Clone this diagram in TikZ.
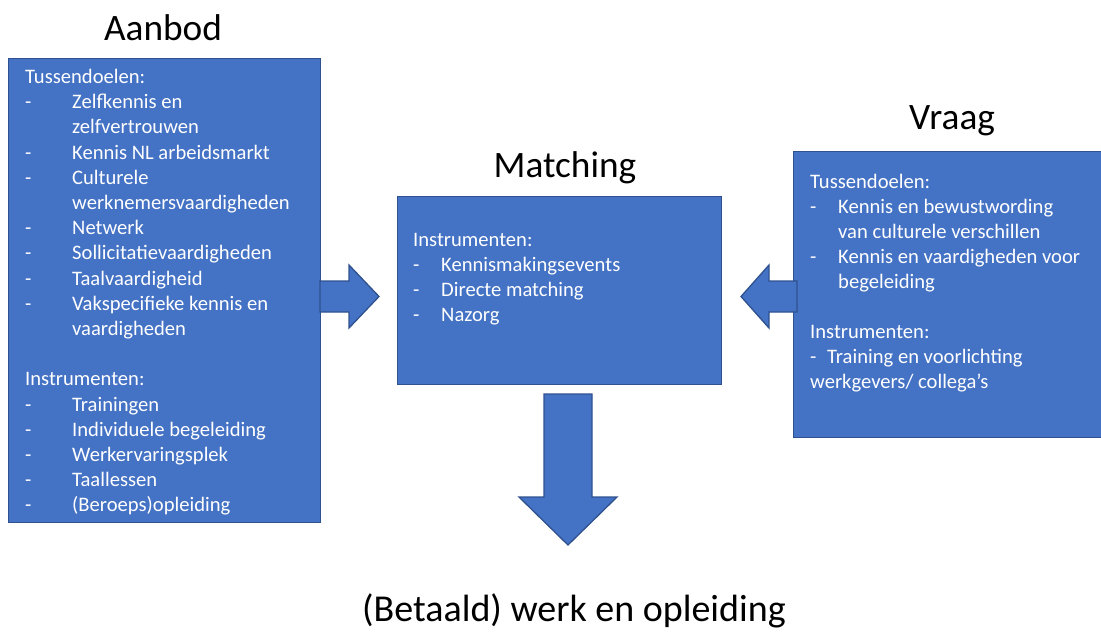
\documentclass[tikz,border=0pt]{standalone}
\usepackage{fontspec}
\setmainfont{Carlito}
\definecolor{boxblue}{HTML}{4472C4}
\definecolor{boxedge}{HTML}{2F528F}
\begin{document}
\begin{tikzpicture}[x=1pt,y=-1pt,
  box/.style={draw=boxedge, fill=boxblue, line width=1.3pt, inner sep=0pt, anchor=north west},
  body/.style={text=white, font=\fontsize{20.6}{25}\selectfont, inner sep=0pt, anchor=base west},
  title/.style={text=black, font=\fontsize{37.3}{44}\selectfont, inner sep=0pt, anchor=base},
  blockarrow/.style={draw=boxedge, fill=boxblue, line width=1.3pt, line join=miter}]
\useasboundingbox (0,0) rectangle (1101,632);

% --- boxes ---
\node[box, minimum width=312pt, minimum height=464pt] (aanbod) at (8,58) {};
\node[box, minimum width=324pt, minimum height=188pt] (matching) at (397,196) {};
\node[box, minimum width=309pt, minimum height=286pt] (vraag) at (793,151) {};

% --- titles ---
\node[title] (tA) at (163,40) {Aanbod};
\node[title] (tM) at (565,177) {Matching};
\node[title] (tV) at (952,129) {Vraag};
\node[title, font=\fontsize{38}{44}\selectfont] (tW) at (574,621.5) {(Betaald) werk en opleiding};

% --- block arrows ---
\draw[blockarrow] (320,281) -- (349,281) -- (349,265) -- (379,296.5)
  -- (349,328) -- (349,312) -- (320,312) -- cycle;
\draw[blockarrow] (797,281) -- (769,281) -- (769,265) -- (741,296.5)
  -- (769,328) -- (769,312) -- (797,312) -- cycle;
\draw[blockarrow] (544,394) -- (592,394) -- (592,497) -- (617,497)
  -- (568,545) -- (519,497) -- (544,497) -- cycle;

% --- Aanbod text ---
\foreach \n/\txt in {0/Tussendoelen:, 12/Instrumenten:}
  \node[body] (ah\n) at (25,{83.5+25.2*\n}) {\txt};
\foreach \n in {1,3,4,6,7,8,9,13,14,15,16,17}
  \node[body] (ad\n) at (25,{83.5+25.2*\n}) {-};
\foreach \n/\txt in {1/Zelfkennis en, 2/zelfvertrouwen, 3/Kennis NL arbeidsmarkt,
    4/Culturele, 5/werknemersvaardigheden, 6/Netwerk, 7/Sollicitatievaardigheden,
    8/Taalvaardigheid, 9/Vakspecifieke kennis en, 10/vaardigheden,
    13/Trainingen, 14/Individuele begeleiding, 15/Werkervaringsplek,
    16/Taallessen, 17/(Beroeps)opleiding}
  \node[body] (at\n) at (72,{83.5+25.2*\n}) {\txt};

% --- Matching text ---
\node[body] (mh) at (413,246.5) {Instrumenten:};
\foreach \n/\txt in {1/Kennismakingsevents, 2/Directe matching, 3/Nazorg}{
  \node[body] (md\n) at (413,{246.5+25*\n}) {-};
  \node[body] (mt\n) at (441,{246.5+25*\n}) {\txt};
}

% --- Vraag text ---
\foreach \n/\txt in {0/Tussendoelen:, 6/Instrumenten:}
  \node[body] (vh\n) at (810,{188.3+25*\n}) {\txt};
\foreach \n in {1,3}
  \node[body] (vd\n) at (810,{188.3+25*\n}) {-};
\foreach \n/\txt in {1/Kennis en bewustwording, 2/van culturele verschillen,
    3/Kennis en vaardigheden voor, 4/begeleiding}
  \node[body] (vt\n) at (838,{188.3+25*\n}) {\txt};
\node[body] (vd7) at (810,{188.3+25*7}) {-};
\node[body] (vt7) at (827,{188.3+25*7}) {Training en voorlichting};
\node[body] (vt8) at (810,{188.3+25*8}) {werkgevers/ collega’s};
\end{tikzpicture}
\end{document}
